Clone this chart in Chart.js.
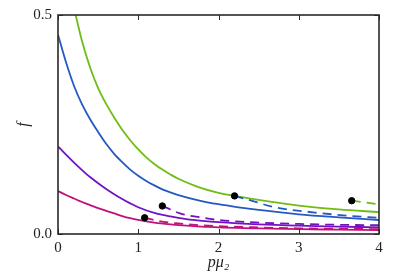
<!DOCTYPE html>
<html>
<head>
<meta charset="utf-8">
<script src="https://cdn.jsdelivr.net/npm/chart.js@4.4.1/dist/chart.umd.min.js"></script>
<style>
  html, body { margin: 0; padding: 0; background: #fff; }
  #wrap { width: 394px; height: 279px; }
</style>
</head>
<body>
<div id="wrap"><canvas id="chart" width="394" height="279"></canvas></div>
<script>
// ─── Data ─────────────────────────────────────────────────────────────
const xTicks = [0, 1, 2, 3, 4];
const yTicks = [0.0, 0.5];

// solid curves
const xGreen = [0.22, 0.3, 0.4, 0.5, 0.6, 0.7, 0.8, 0.9, 1.0, 1.1, 1.2, 1.3, 1.4, 1.5, 1.75, 2.0, 2.2, 2.6, 3.0, 3.5, 4.0];
const fGreen = [0.5, 0.44, 0.38, 0.333, 0.297, 0.266, 0.238, 0.214, 0.193, 0.175, 0.16, 0.147, 0.136, 0.126, 0.107, 0.094, 0.087, 0.075, 0.065, 0.056, 0.05];

const xBlue = [0, 0.1, 0.2, 0.3, 0.4, 0.5, 0.6, 0.7, 0.8, 0.9, 1.0, 1.1, 1.2, 1.3, 1.4, 1.5, 1.75, 2.0, 2.25, 2.5, 3.0, 3.5, 4.0];
const fBlue = [0.455, 0.392, 0.338, 0.296, 0.262, 0.233, 0.206, 0.183, 0.164, 0.147, 0.133, 0.121, 0.111, 0.102, 0.095, 0.089, 0.077, 0.068, 0.061, 0.055, 0.045, 0.038, 0.032];

const xPurple = [0, 0.1, 0.2, 0.3, 0.4, 0.5, 0.6, 0.7, 0.8, 0.9, 1.0, 1.2, 1.4, 1.6, 1.8, 2.0, 2.5, 3.0, 3.5, 4.0];
const fPurple = [0.2, 0.181, 0.163, 0.146, 0.130, 0.116, 0.103, 0.091, 0.080, 0.070, 0.061, 0.048, 0.040, 0.034, 0.030, 0.027, 0.022, 0.019, 0.017, 0.015];

const xMagenta = [0, 0.1, 0.2, 0.3, 0.4, 0.5, 0.6, 0.7, 0.8, 0.9, 1.0, 1.2, 1.4, 1.6, 1.8, 2.0, 2.5, 3.0, 3.5, 4.0];
const fMagenta = [0.098, 0.089, 0.081, 0.073, 0.066, 0.059, 0.053, 0.047, 0.041, 0.036, 0.032, 0.026, 0.022, 0.019, 0.017, 0.015, 0.013, 0.011, 0.010, 0.009];

// dashed continuations
const xMagentaDash = [1.08, 1.25, 1.5, 2.0, 2.5, 3.0, 3.5, 4.0];
const fMagentaDash = [0.037, 0.030, 0.024, 0.018, 0.015, 0.013, 0.012, 0.011];

const xPurpleDash = [1.30, 1.4, 1.52, 1.77, 2.0, 2.5, 3.0, 3.5, 4.0];
const fPurpleDash = [0.064, 0.056, 0.047, 0.038, 0.032, 0.026, 0.023, 0.021, 0.020];

const xBlueDash = [2.2, 2.45, 2.7, 3.2, 3.6, 4.0];
const fBlueDash = [0.087, 0.074, 0.061, 0.049, 0.042, 0.037];

const xGreenDash = [3.66, 4.0];
const fGreenDash = [0.076, 0.068];

// black markers
const xDots = [1.08, 1.30, 2.20, 3.66];
const fDots = [0.037, 0.064, 0.087, 0.076];

// ─── Colours ──────────────────────────────────────────────────────────
const GREEN = "#6fbd14";
const BLUE = "#2459c4";
const PURPLE = "#7212c2";
const MAGENTA = "#c0127a";

const pts = (xs, ys) => xs.map((x, i) => ({ x, y: ys[i] }));

function curve(xs, ys, color, dashed) {
  return {
    data: pts(xs, ys),
    showLine: true,
    borderColor: color,
    borderWidth: 1.8,
    borderDash: dashed ? [9, 6] : [],
    pointRadius: 0,
    cubicInterpolationMode: "monotone",
    fill: false,
  };
}

// ─── Frame + inward ticks ─────────────────────────────────────────────
const framePlugin = {
  id: "frame",
  afterDatasetsDraw(chart) {
    const { ctx, chartArea: a, scales } = chart;
    const line = (x1, y1, x2, y2) => {
      ctx.beginPath(); ctx.moveTo(x1, y1); ctx.lineTo(x2, y2); ctx.stroke();
    };
    ctx.save();
    ctx.strokeStyle = "#2a2a2a";
    ctx.lineWidth = 1;
    xTicks.forEach((v) => {
      const px = Math.round(scales.x.getPixelForValue(v)) + 0.5;
      line(px, a.bottom, px, a.bottom - 5);
      line(px, a.top, px, a.top + 5);
    });
    yTicks.forEach((v) => {
      const py = Math.round(scales.y.getPixelForValue(v)) + 0.5;
      line(a.left, py, a.left + 5, py);
      line(a.right, py, a.right - 5, py);
    });
    ctx.lineWidth = 1.6;
    ctx.strokeRect(a.left, a.top, a.right - a.left, a.bottom - a.top);
    ctx.restore();
  },
};

const SERIF = "'Liberation Serif', 'DejaVu Serif', serif";

new Chart(document.getElementById("chart"), {
  type: "scatter",
  data: {
    datasets: [
      {
        data: pts(xDots, fDots),
        pointRadius: 3.2,
        pointBackgroundColor: "#000",
        pointBorderColor: "#000",
        showLine: false,
      },
      curve(xGreenDash, fGreenDash, GREEN, true),
      curve(xBlueDash, fBlueDash, BLUE, true),
      curve(xPurpleDash, fPurpleDash, PURPLE, true),
      curve(xMagentaDash, fMagentaDash, MAGENTA, true),
      curve(xGreen, fGreen, GREEN, false),
      curve(xBlue, fBlue, BLUE, false),
      curve(xPurple, fPurple, PURPLE, false),
      curve(xMagenta, fMagenta, MAGENTA, false),
    ],
  },
  options: {
    responsive: false,
    animation: false,
    layout: { padding: { left: 0, right: 15, top: 15, bottom: 0 } },
    plugins: { legend: { display: false }, tooltip: { enabled: false } },
    scales: {
      x: {
        type: "linear",
        min: 0,
        max: 4,
        afterFit: (s) => { s.height = 45; },
        afterBuildTicks: (s) => { s.ticks = xTicks.map((v) => ({ value: v })); },
        grid: { display: false, drawTicks: false },
        border: { display: false },
        ticks: {
          color: "#222",
          padding: 5,
          maxRotation: 0,
          font: { family: SERIF, size: 15 },
          callback: (v) => String(v),
        },
        title: {
          display: true,
          text: "pμ₂",
          color: "#222",
          padding: { top: 7, bottom: 7 },
          font: { family: SERIF, size: 16, style: "italic" },
        },
      },
      y: {
        type: "linear",
        min: 0,
        max: 0.5,
        afterFit: (s) => { s.width = 58; },
        afterBuildTicks: (s) => { s.ticks = yTicks.map((v) => ({ value: v })); },
        grid: { display: false, drawTicks: false },
        border: { display: false },
        ticks: {
          color: "#222",
          padding: 6,
          font: { family: SERIF, size: 15 },
          callback: (v) => Number(v).toFixed(1),
        },
        title: {
          display: true,
          text: "f",
          color: "#222",
          padding: { top: 14, bottom: 14 },
          font: { family: SERIF, size: 16, style: "italic" },
        },
      },
    },
  },
  plugins: [framePlugin],
});
</script>
</body>
</html>
